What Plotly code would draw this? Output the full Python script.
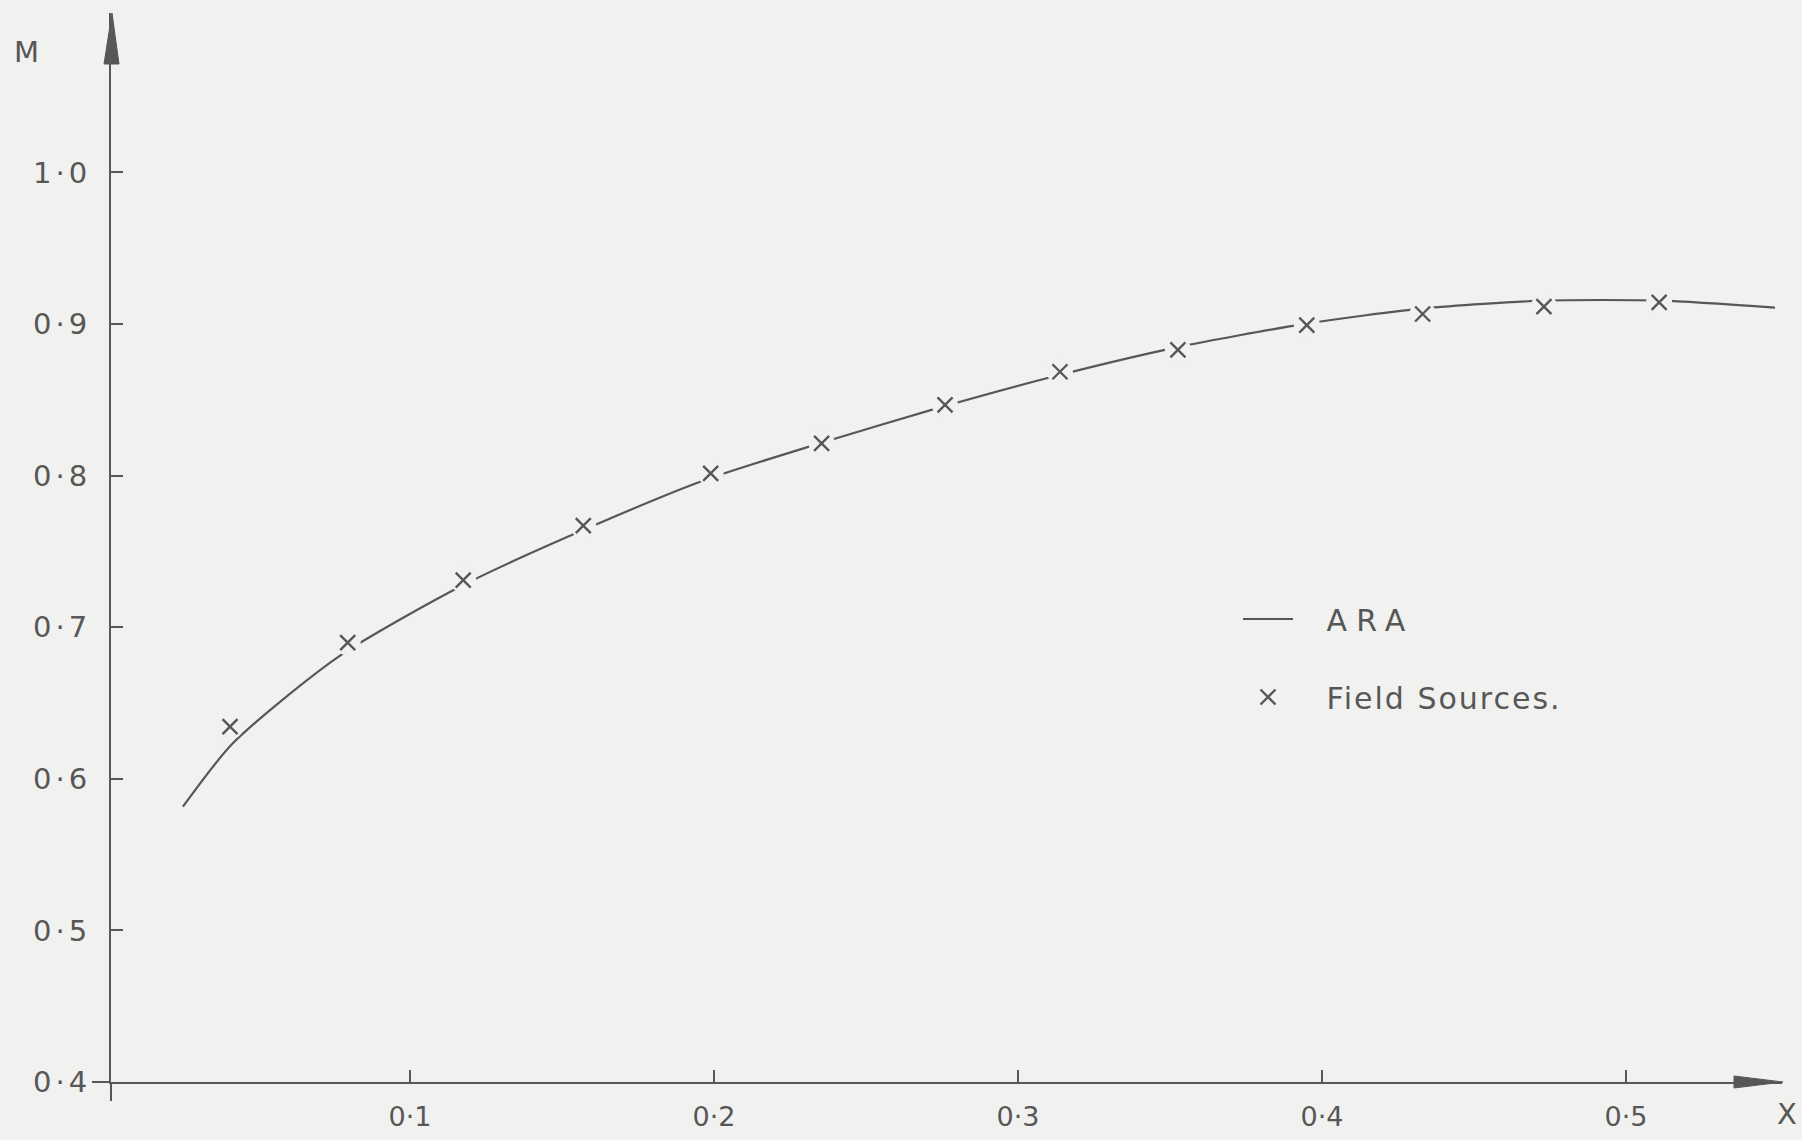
import plotly.graph_objects as go

# ---------------- data ----------------
ara_x = [0.0253, 0.0418, 0.0763, 0.1180, 0.1583, 0.1970, 0.2340, 0.2749,
         0.3133, 0.3522, 0.3944, 0.4333, 0.4730, 0.5114, 0.5490]
ara_y = [0.5816, 0.6236, 0.6803, 0.7283, 0.7652, 0.7971, 0.8208, 0.8453,
         0.8662, 0.8846, 0.9001, 0.9103, 0.9154, 0.9154, 0.9108]

field_x = [0.0408, 0.0795, 0.1175, 0.1570, 0.1989, 0.2354, 0.2760,
           0.3138, 0.3526, 0.3950, 0.4331, 0.4730, 0.5109]
field_y = [0.6344, 0.6898, 0.7311, 0.7670, 0.8015, 0.8213, 0.8466,
           0.8685, 0.8829, 0.8993, 0.9066, 0.9114, 0.9143]

x_tickvals = [0.1, 0.2, 0.3, 0.4, 0.5]
x_ticktext = ["0·1", "0·2", "0·3", "0·4", "0·5"]
y_tickvals = [0.4, 0.5, 0.6, 0.7, 0.8, 0.9, 1.0]
y_ticktext = ["0·4", "0·5", "0·6", "0·7", "0·8", "0·9", "1·0"]

# ---------------- styling ----------------
W, H = 1802, 1140
L, R, T, B = 111, 20, 13, 58
PW, PH = W - L - R, H - T - B
BG = "#f1f1ef"
INK = "#575757"
FONT = "DejaVu Sans"


def pxx(px):
    return (px - L) / PW


def pxy(py):
    return (H - B - py) / PH


def spaced(s, px):
    return f'<span style="letter-spacing:{px}px">{s}</span>'


fig = go.Figure()

fig.add_trace(go.Scatter(
    x=ara_x, y=ara_y, mode="lines", name="\u00a0\u00a0\u00a0" + spaced("ARA", 9),
    line=dict(color=INK, width=2.2, shape="spline", smoothing=0.7),
    legendgroup="a",
))
# background-coloured halo that opens small gaps in the curve round each cross
fig.add_trace(go.Scatter(
    x=field_x, y=field_y, mode="markers", showlegend=False, hoverinfo="skip",
    marker=dict(symbol="circle", size=26, color=BG, line=dict(width=0)),
))
fig.add_trace(go.Scatter(
    x=field_x, y=field_y, mode="markers",
    name="\u00a0\u00a0\u00a0" + spaced("Field Sources.", 2),
    marker=dict(symbol="x-thin", size=15, color=INK,
                line=dict(color=INK, width=2.4)),
    legendgroup="b",
))

shapes = [
    # y-axis arrow head
    dict(type="path", xref="paper", yref="paper",
         path=f"M {pxx(L - 7)},{pxy(64)} L {pxx(L + 1)},{pxy(13)} L {pxx(L + 8)},{pxy(64)} Z",
         fillcolor=INK, line=dict(color=INK, width=1)),
    # x-axis arrow head
    dict(type="path", xref="paper", yref="paper",
         path=f"M {pxx(1734)},{pxy(1076)} L {pxx(1783)},{pxy(1082)} L {pxx(1734)},{pxy(1088)} Z",
         fillcolor=INK, line=dict(color=INK, width=1)),
    # axis overhangs at the origin
    dict(type="line", xref="paper", yref="paper",
         x0=pxx(92), x1=pxx(L), y0=0, y1=0, line=dict(color=INK, width=2)),
    dict(type="line", xref="paper", yref="paper",
         x0=0, x1=0, y0=pxy(1101), y1=0, line=dict(color=INK, width=2)),
]

annotations = [
    dict(text="M", xref="paper", yref="paper", x=pxx(26), y=pxy(52),
         showarrow=False, font=dict(family=FONT, size=29, color=INK),
         xanchor="center", yanchor="middle"),
    dict(text="X", xref="paper", yref="paper", x=pxx(1787), y=pxy(1114),
         showarrow=False, font=dict(family=FONT, size=29, color=INK),
         xanchor="center", yanchor="middle"),
]

fig.update_layout(
    width=W, height=H,
    margin=dict(l=L, r=R, t=T, b=B, autoexpand=False),
    paper_bgcolor=BG, plot_bgcolor=BG,
    font=dict(family=FONT, color=INK),
    showlegend=True,
    legend=dict(
        x=pxx(1238), y=pxy(593), xanchor="left", yanchor="top",
        bgcolor="rgba(0,0,0,0)", borderwidth=0,
        font=dict(family=FONT, size=30, color=INK),
        traceorder="grouped", tracegroupgap=36, itemwidth=50,
    ),
    shapes=shapes,
    annotations=annotations,
    xaxis=dict(
        range=[(L - 106) / 3040, (W - R - 106) / 3040],
        tickvals=x_tickvals, ticktext=x_ticktext,
        ticks="inside", ticklen=12, tickwidth=2, tickcolor=INK,
        showline=True, linecolor=INK, linewidth=2,
        showgrid=False, zeroline=False, automargin=False,
        tickfont=dict(family=FONT, size=27, color=INK),
        ticklabelstandoff=10,
    ),
    yaxis=dict(
        range=[0.4, 0.4 + PH / 1516],
        tickvals=y_tickvals, ticktext=[spaced(t, 4) for t in y_ticktext],
        ticks="inside", ticklen=12, tickwidth=2, tickcolor=INK,
        showline=True, linecolor=INK, linewidth=2,
        showgrid=False, zeroline=False, automargin=False,
        tickfont=dict(family=FONT, size=29, color=INK),
        ticklabelstandoff=12,
    ),
)

fig.write_html("out.html",
               config={"displayModeBar": False},
               post_script="document.body.style.margin='0';"
                           "document.body.style.overflow='hidden';")
